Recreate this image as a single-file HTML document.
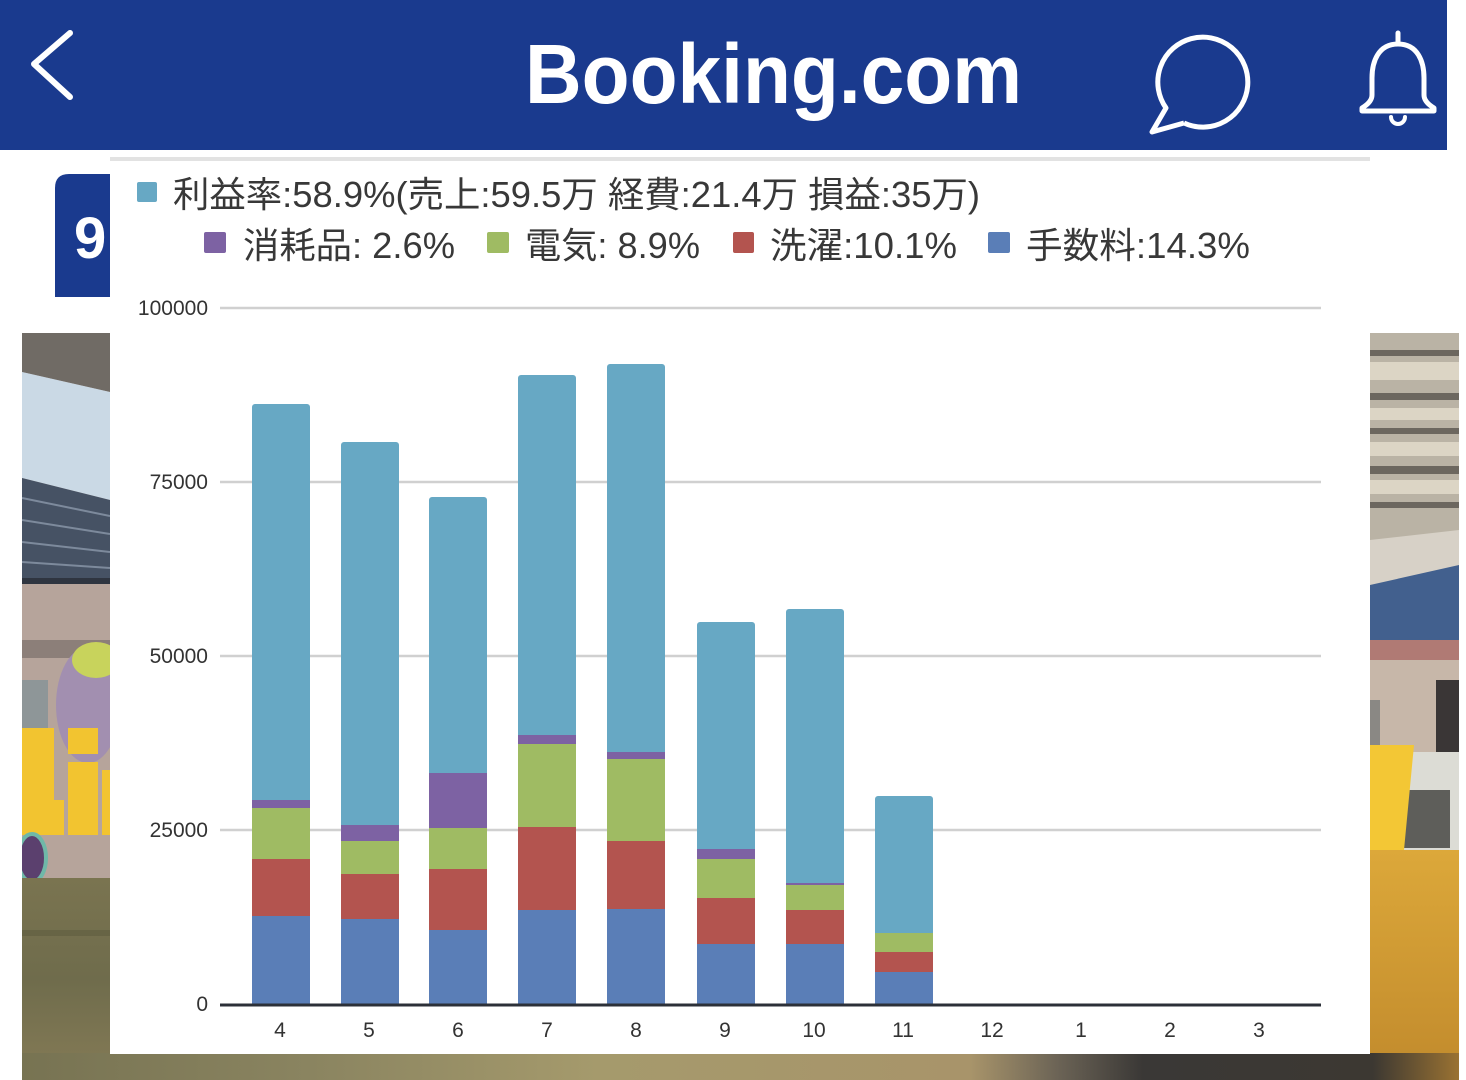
<!DOCTYPE html>
<html><head><meta charset="utf-8">
<style>
html,body{margin:0;padding:0;background:#fff;}
body{width:1466px;height:1080px;overflow:hidden;}
svg{display:block;}
.lg{font-family:"Liberation Sans","Noto Sans CJK JP",sans-serif;font-size:36px;fill:#383838;}
.ax{font-family:"Liberation Sans",sans-serif;font-size:21px;fill:#333;}
</style></head>
<body>
<svg width="1466" height="1080" viewBox="0 0 1466 1080" xmlns="http://www.w3.org/2000/svg">
<defs>
<linearGradient id="grass" x1="0" y1="0" x2="0" y2="1">
<stop offset="0" stop-color="#7a7450"/><stop offset="0.5" stop-color="#6f6c4c"/><stop offset="1" stop-color="#857b56"/>
</linearGradient>
<linearGradient id="van" x1="0" y1="0" x2="0" y2="1">
<stop offset="0" stop-color="#dca83a"/><stop offset="1" stop-color="#c18a2c"/>
</linearGradient>
<linearGradient id="bot" x1="0" y1="0" x2="1" y2="0">
<stop offset="0" stop-color="#777352"/><stop offset="0.2" stop-color="#8a8460"/><stop offset="0.4" stop-color="#a59a6c"/><stop offset="0.66" stop-color="#a8946a"/><stop offset="0.72" stop-color="#6c6456"/><stop offset="0.78" stop-color="#3a3836"/><stop offset="0.94" stop-color="#3c3832"/><stop offset="1" stop-color="#9a7232"/>
</linearGradient>
<clipPath id="lclip"><rect x="22" y="333" width="88" height="747"/></clipPath>
<clipPath id="rclip"><rect x="1370" y="333" width="89" height="747"/></clipPath>
</defs>

<!-- header -->
<rect x="0" y="0" width="1447" height="150" fill="#1a3a8e"/>
<polyline points="70,33 34,64 70,97" fill="none" stroke="#fff" stroke-width="6" stroke-linecap="round" stroke-linejoin="round"/>
<text x="525" y="103" font-family="Liberation Sans, sans-serif" font-weight="bold" font-size="84" fill="#fff" textLength="497" lengthAdjust="spacingAndGlyphs">Booking.com</text>
<path d="M1184,123 L1152,132 L1166,108 A45,45 0 1 1 1184,123" fill="none" stroke="#fff" stroke-width="5" stroke-linejoin="round"/>
<path d="M1398,44 C1378,44 1372,62 1372,78 L1372,95 Q1372,102 1362,108 L1362,111 L1434,111 L1434,108 Q1424,102 1424,95 L1424,78 C1424,62 1418,44 1398,44 Z" fill="none" stroke="#fff" stroke-width="5" stroke-linejoin="round"/>
<line x1="1398" y1="33" x2="1398" y2="44" stroke="#fff" stroke-width="5" stroke-linecap="round"/>
<path d="M1391,117 A7,7 0 0 0 1405,117" fill="none" stroke="#fff" stroke-width="4" stroke-linecap="round"/>

<!-- left photo strip -->
<g clip-path="url(#lclip)">
<rect x="22" y="333" width="88" height="747" fill="#b6a49b"/>
<polygon points="22,333 110,333 110,392 22,372" fill="#706b65"/>
<polygon points="22,372 110,392 110,500 22,478" fill="#cad9e5"/>
<polygon points="22,478 110,500 110,580 22,578" fill="#465264"/>
<g stroke="#7d8a9c" stroke-width="2">
<line x1="22" y1="498" x2="110" y2="516"/><line x1="22" y1="520" x2="110" y2="534"/><line x1="22" y1="542" x2="110" y2="552"/><line x1="22" y1="562" x2="110" y2="568"/>
</g>
<rect x="22" y="578" width="88" height="6" fill="#2f3540"/>
<rect x="22" y="640" width="88" height="18" fill="#8c7f79"/>
<rect x="22" y="680" width="26" height="90" fill="#8e9698"/>
<ellipse cx="88" cy="705" rx="32" ry="58" fill="#a28fb0"/>
<ellipse cx="96" cy="660" rx="24" ry="18" fill="#c8d35c"/>
<rect x="22" y="728" width="32" height="107" fill="#f2c430"/>
<rect x="22" y="800" width="42" height="35" fill="#f2c430"/>
<rect x="68" y="762" width="30" height="73" fill="#f2c430"/>
<rect x="68" y="728" width="30" height="26" fill="#f2c430"/>
<rect x="102" y="770" width="8" height="65" fill="#f2c430"/>
<ellipse cx="32" cy="858" rx="14" ry="24" fill="#5b406e" stroke="#6fb8a8" stroke-width="4"/>
<rect x="22" y="878" width="88" height="202" fill="url(#grass)"/>
<rect x="22" y="930" width="88" height="6" fill="#5f5c40" opacity="0.6"/>
</g>

<!-- right photo strip -->
<g clip-path="url(#rclip)">
<rect x="1370" y="333" width="89" height="747" fill="#bab3a5"/>
<g fill="#6c675f">
<rect x="1370" y="350" width="89" height="6"/><rect x="1370" y="393" width="89" height="7"/><rect x="1370" y="428" width="89" height="6"/><rect x="1370" y="466" width="89" height="8"/><rect x="1370" y="502" width="89" height="6"/>
</g>
<g fill="#dcd5c5">
<rect x="1370" y="362" width="89" height="18"/><rect x="1370" y="408" width="89" height="12"/><rect x="1370" y="442" width="89" height="14"/><rect x="1370" y="480" width="89" height="14"/>
</g>
<polygon points="1370,540 1459,530 1459,575 1370,585" fill="#d7d1c7"/>
<polygon points="1370,585 1459,565 1459,640 1370,640" fill="#42608e"/>
<rect x="1370" y="640" width="89" height="20" fill="#b07a74"/>
<rect x="1370" y="660" width="89" height="95" fill="#c7b7a9"/>
<rect x="1436" y="680" width="23" height="72" fill="#3a3636"/>
<rect x="1370" y="700" width="10" height="50" fill="#8a8884"/>
<rect x="1370" y="752" width="89" height="100" fill="#dcdcd5"/>
<rect x="1388" y="790" width="62" height="58" fill="#5e5e5a"/>
<polygon points="1370,745 1414,745 1404,850 1370,850" fill="#f3c735"/>
<rect x="1370" y="850" width="89" height="230" fill="url(#van)"/>
</g>

<!-- bottom strip -->
<rect x="22" y="1053" width="1437" height="27" fill="url(#bot)"/>

<!-- white chart panel -->
<rect x="0" y="150" width="1466" height="183" fill="#fff"/>
<rect x="1447" y="0" width="19" height="150" fill="#fff"/>
<!-- tab 9 -->
<path d="M55,297 L55,188 Q55,174 69,174 L110,174 L110,297 Z" fill="#1a3a8e"/>
<text x="74" y="258" font-family="Liberation Sans, sans-serif" font-weight="bold" font-size="58" fill="#fff">9</text>
<rect x="110" y="150" width="1260" height="904" fill="#fff"/>
<rect x="110" y="157" width="1260" height="4" fill="#e2e2e2"/>

<!-- legend -->
<rect x="137" y="182" width="20" height="20" rx="2" fill="#67a8c4"/>
<text class="lg" x="173" y="207" textLength="807" lengthAdjust="spacingAndGlyphs">利益率:58.9%(売上:59.5万 経費:21.4万 損益:35万)</text>
<rect x="204" y="232" width="22" height="21" rx="2" fill="#7d62a3"/>
<text class="lg" x="243" y="258" textLength="212" lengthAdjust="spacingAndGlyphs">消耗品: 2.6%</text>
<rect x="487" y="232" width="22" height="21" rx="2" fill="#9fbb63"/>
<text class="lg" x="525" y="258" textLength="175" lengthAdjust="spacingAndGlyphs">電気: 8.9%</text>
<rect x="733" y="232" width="21" height="21" rx="2" fill="#b3544f"/>
<text class="lg" x="770" y="258" textLength="187" lengthAdjust="spacingAndGlyphs">洗濯:10.1%</text>
<rect x="988" y="232" width="22" height="21" rx="2" fill="#5a7eb7"/>
<text class="lg" x="1026" y="258" textLength="224" lengthAdjust="spacingAndGlyphs">手数料:14.3%</text>

<!-- gridlines -->
<g stroke="#d0d0d0" stroke-width="2.5">
<line x1="220" y1="308" x2="1321" y2="308"/>
<line x1="220" y1="482" x2="1321" y2="482"/>
<line x1="220" y1="656" x2="1321" y2="656"/>
<line x1="220" y1="830" x2="1321" y2="830"/>
</g>
<g class="ax" text-anchor="end">
<text x="208" y="315">100000</text>
<text x="208" y="489">75000</text>
<text x="208" y="663">50000</text>
<text x="208" y="837">25000</text>
<text x="208" y="1011">0</text>
</g>

<!-- bars -->
<g>
<rect x="252" y="404" width="58" height="600" rx="3" fill="#67a8c4"/>
<rect x="252" y="800" width="58" height="8" fill="#7d62a3"/>
<rect x="252" y="808" width="58" height="51" fill="#9fbb63"/>
<rect x="252" y="859" width="58" height="57" fill="#b3544f"/>
<rect x="252" y="916" width="58" height="88" fill="#5a7eb7"/>

<rect x="341" y="442" width="58" height="562" rx="3" fill="#67a8c4"/>
<rect x="341" y="825" width="58" height="16" fill="#7d62a3"/>
<rect x="341" y="841" width="58" height="33" fill="#9fbb63"/>
<rect x="341" y="874" width="58" height="45" fill="#b3544f"/>
<rect x="341" y="919" width="58" height="85" fill="#5a7eb7"/>

<rect x="429" y="497" width="58" height="507" rx="3" fill="#67a8c4"/>
<rect x="429" y="773" width="58" height="55" fill="#7d62a3"/>
<rect x="429" y="828" width="58" height="41" fill="#9fbb63"/>
<rect x="429" y="869" width="58" height="61" fill="#b3544f"/>
<rect x="429" y="930" width="58" height="74" fill="#5a7eb7"/>

<rect x="518" y="375" width="58" height="629" rx="3" fill="#67a8c4"/>
<rect x="518" y="735" width="58" height="9" fill="#7d62a3"/>
<rect x="518" y="744" width="58" height="83" fill="#9fbb63"/>
<rect x="518" y="827" width="58" height="83" fill="#b3544f"/>
<rect x="518" y="910" width="58" height="94" fill="#5a7eb7"/>

<rect x="607" y="364" width="58" height="640" rx="3" fill="#67a8c4"/>
<rect x="607" y="752" width="58" height="7" fill="#7d62a3"/>
<rect x="607" y="759" width="58" height="82" fill="#9fbb63"/>
<rect x="607" y="841" width="58" height="68" fill="#b3544f"/>
<rect x="607" y="909" width="58" height="95" fill="#5a7eb7"/>

<rect x="697" y="622" width="58" height="382" rx="3" fill="#67a8c4"/>
<rect x="697" y="849" width="58" height="10" fill="#7d62a3"/>
<rect x="697" y="859" width="58" height="39" fill="#9fbb63"/>
<rect x="697" y="898" width="58" height="46" fill="#b3544f"/>
<rect x="697" y="944" width="58" height="60" fill="#5a7eb7"/>

<rect x="786" y="609" width="58" height="395" rx="3" fill="#67a8c4"/>
<rect x="786" y="883" width="58" height="2" fill="#7d62a3"/>
<rect x="786" y="885" width="58" height="25" fill="#9fbb63"/>
<rect x="786" y="910" width="58" height="34" fill="#b3544f"/>
<rect x="786" y="944" width="58" height="60" fill="#5a7eb7"/>

<rect x="875" y="796" width="58" height="208" rx="3" fill="#67a8c4"/>
<rect x="875" y="933" width="58" height="19" fill="#9fbb63"/>
<rect x="875" y="952" width="58" height="20" fill="#b3544f"/>
<rect x="875" y="972" width="58" height="32" fill="#5a7eb7"/>
</g>

<!-- axis -->
<line x1="220" y1="1005" x2="1321" y2="1005" stroke="#2c3038" stroke-width="3"/>
<g class="ax" text-anchor="middle">
<text x="280" y="1037">4</text>
<text x="369" y="1037">5</text>
<text x="458" y="1037">6</text>
<text x="547" y="1037">7</text>
<text x="636" y="1037">8</text>
<text x="725" y="1037">9</text>
<text x="814" y="1037">10</text>
<text x="903" y="1037">11</text>
<text x="992" y="1037">12</text>
<text x="1081" y="1037">1</text>
<text x="1170" y="1037">2</text>
<text x="1259" y="1037">3</text>
</g>
</svg>
</body></html>
